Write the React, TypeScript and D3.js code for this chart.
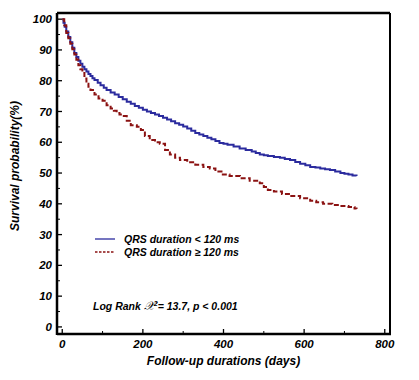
import React from "react";
import * as d3 from "d3";

const blueDays = [0, 3, 6, 10, 15, 20, 25, 30, 35, 40, 45, 50, 55, 60, 65, 70, 75, 80, 88, 95, 103, 110, 120, 130, 140, 150, 160, 170, 180, 190, 200, 210, 220, 230, 240, 250, 260, 270, 280, 290, 300, 310, 320, 330, 340, 350, 360, 370, 380, 390, 400, 410, 425, 440, 455, 470, 480, 490, 500, 510, 525, 540, 552, 565, 578, 590, 603, 615, 628, 640, 652, 664, 677, 690, 700, 710, 720, 730];
const blueSurv = [100, 98.8, 97.5, 96, 94.2, 92.5, 90.7, 89, 87.7, 86.5, 85.5, 84.5, 83.7, 83, 82.2, 81.5, 80.8, 80.2, 79.3, 78.5, 77.7, 77, 76.2, 75.5, 74.7, 74, 73.2, 72.5, 71.8, 71.2, 70.6, 70, 69.5, 69, 68.5, 68, 67.4, 66.8, 66.2, 65.7, 65.1, 64.5, 63.7, 63, 62.5, 62, 61.5, 61, 60.4, 59.8, 59.5, 59.2, 58.6, 58, 57.5, 57, 56.5, 56, 55.8, 55.5, 55.2, 55, 54.6, 54.2, 53.6, 53, 52.5, 52, 51.8, 51.5, 51.2, 51, 50.5, 50, 49.8, 49.5, 49.2, 49];

const redDays = [0, 5, 10, 15, 20, 25, 30, 35, 40, 45, 50, 55, 60, 65, 70, 80, 90, 100, 110, 120, 128, 135, 142, 150, 160, 170, 185, 195, 205, 217, 230, 242, 255, 267, 280, 292, 310, 330, 350, 366, 380, 395, 415, 441, 465, 490, 500, 510, 525, 545, 565, 590, 615, 630, 647, 670, 690, 710, 725, 730];
const redSurv = [100, 98, 95.5, 93.8, 92, 90.2, 88.5, 86.8, 85, 83.7, 82.5, 80.7, 79, 78, 77, 75.5, 74.2, 73.5, 72, 71, 70.2, 69.5, 69, 68.5, 67, 65.5, 65, 64, 62, 60.7, 60, 59.5, 57.5, 56, 55, 54.2, 53.5, 52.7, 52, 51.5, 50.5, 49.5, 49, 48.3, 47.5, 46.7, 45.5, 44.5, 44, 43.2, 42.5, 41.8, 41, 40.5, 40, 39.6, 39.3, 39, 38.5, 38.3];

const xMajor = [0, 200, 400, 600, 800];
const xMinor = [100, 300, 500, 700];
const yMajor = [0, 10, 20, 30, 40, 50, 60, 70, 80, 90, 100];
const yMinor = [5, 15, 25, 35, 45, 55, 65, 75, 85, 95];

const seriesNames = ["QRS duration < 120 ms", "QRS duration \u2265 120 ms"];
const blueColor = "#2b2b9e";
const redColor = "#8b1212";

const FONT = "'Liberation Sans', Arial, sans-serif";

export default function App() {
  const W = 419, H = 380;
  const left = 57, right = 390, top = 13, bottom = 334;
  const x = d3.scaleLinear().domain([-13, 813]).range([left, right]);
  const y = d3.scaleLinear().domain([-2.3, 102]).range([bottom, top]);
  const line = d3
    .line<[number, number]>()
    .x((d) => x(d[0]))
    .y((d) => y(d[1]))
    .curve(d3.curveStepAfter);
  const blue = line(blueDays.map((d, i) => [d, blueSurv[i]]) as [number, number][]) || "";
  const red = line(redDays.map((d, i) => [d, redSurv[i]]) as [number, number][]) || "";

  return (
    <svg width={W} height={H} style={{ position: "absolute", left: 0, top: 0, background: "#fff" }} fontFamily={FONT}>
      <rect x={0} y={0} width={W} height={H} fill="#fff" />
      {/* curves */}
      <path d={blue} fill="none" stroke={blueColor} strokeWidth={2} />
      <path d={red} fill="none" stroke={redColor} strokeWidth={2} strokeDasharray="5,2.5" />
      {/* frame */}
      <line x1={left} x2={right} y1={top} y2={top} stroke="#000" strokeWidth={2.5} />
      <line x1={right} x2={right} y1={top} y2={bottom} stroke="#000" strokeWidth={2} />
      <line x1={left} x2={left} y1={top} y2={bottom + 1} stroke="#000" strokeWidth={2.5} />
      <line x1={left} x2={right + 1} y1={bottom} y2={bottom} stroke="#000" strokeWidth={2.5} />
      {/* y ticks */}
      {yMajor.map((v) => (
        <g key={"ym" + v}>
          <line x1={left} x2={left + 5} y1={y(v)} y2={y(v)} stroke="#000" strokeWidth={1.3} />
          <text x={left - 5} y={y(v)} dy="0.35em" textAnchor="end" fontSize={11.5} fontWeight="bold" fontStyle="italic">
            {v}
          </text>
        </g>
      ))}
      {yMinor.map((v) => (
        <line key={"yn" + v} x1={left} x2={left + 3} y1={y(v)} y2={y(v)} stroke="#000" strokeWidth={1} />
      ))}
      {/* x ticks */}
      {xMajor.map((v) => (
        <g key={"xm" + v}>
          <line x1={x(v)} x2={x(v)} y1={bottom} y2={bottom - 5} stroke="#000" strokeWidth={1.3} />
          <text x={x(v)} y={bottom + 10} dy="0.35em" textAnchor="middle" fontSize={11.5} fontWeight="bold" fontStyle="italic">
            {v}
          </text>
        </g>
      ))}
      {xMinor.map((v) => (
        <line key={"xn" + v} x1={x(v)} x2={x(v)} y1={bottom} y2={bottom - 3} stroke="#000" strokeWidth={1} />
      ))}
      {/* axis titles */}
      <text x={(left + right) / 2} y={361} dy="0.35em" textAnchor="middle" fontSize={12} fontWeight="bold" fontStyle="italic">
        Follow-up durations (days)
      </text>
      <text transform={`translate(15,166) rotate(-90)`} dy="0.35em" textAnchor="middle" fontSize={12} fontWeight="bold" fontStyle="italic">
        Survival probability(%)
      </text>
      {/* legend */}
      <line x1={95} x2={115} y1={239} y2={239} stroke={blueColor} strokeWidth={1.3} />
      <line x1={95} x2={115} y1={252} y2={252} stroke={redColor} strokeWidth={1.3} strokeDasharray="2.5,1.5" />
      <text x={124} y={239} dy="0.35em" fontSize={10.5} fontWeight="bold" fontStyle="italic">{seriesNames[0]}</text>
      <text x={124} y={252} dy="0.35em" fontSize={10.5} fontWeight="bold" fontStyle="italic">{seriesNames[1]}</text>
      {/* log rank */}
      <text x={93} y={306} dy="0.35em" fontSize={10.5} fontWeight="bold" fontStyle="italic">
        Log Rank{" "}
        <tspan fontFamily="'DejaVu Serif', serif" fontWeight="normal" fontSize={12}>{"\u{1D4B3}"}</tspan>
        <tspan fontSize={7} dy="-4">2</tspan>
        <tspan dy="4">= 13.7, p &lt; 0.001</tspan>
      </text>
    </svg>
  );
}
